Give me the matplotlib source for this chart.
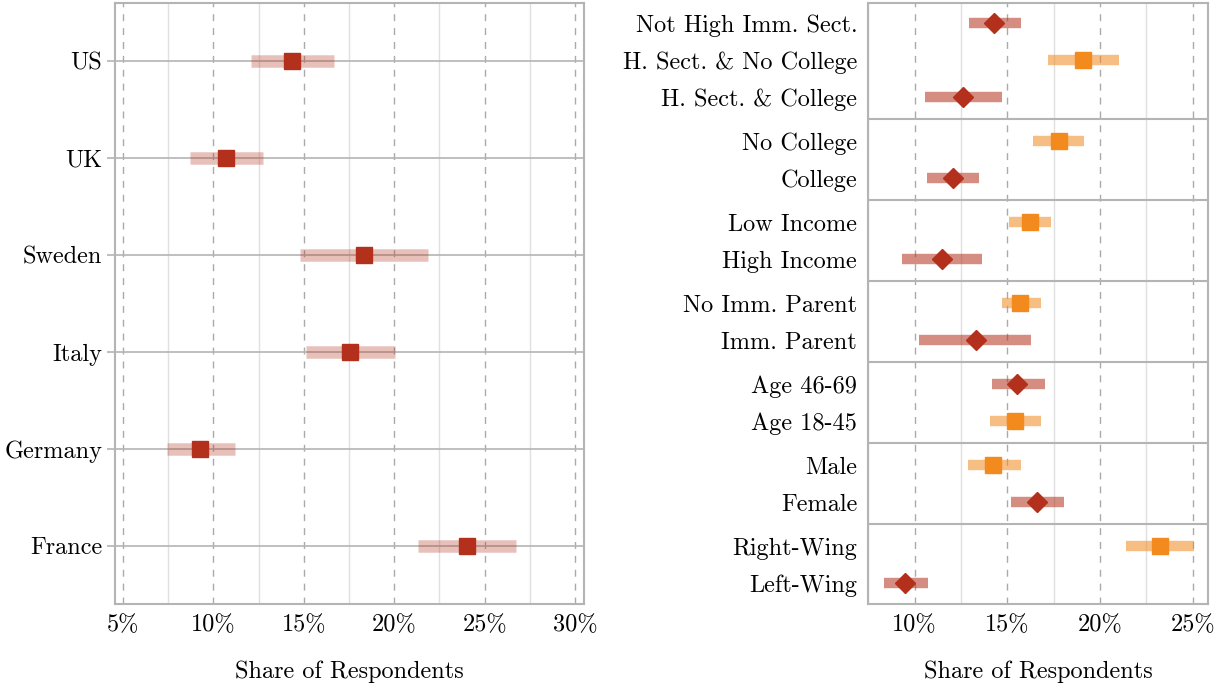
import matplotlib
matplotlib.use("Agg")
import matplotlib.pyplot as plt
from matplotlib.ticker import MultipleLocator, FuncFormatter

plt.rcParams['font.family'] = ['cmr10', 'DejaVu Serif']
plt.rcParams['axes.formatter.use_mathtext'] = True

# left panel: by country
countries = ["US", "UK", "Sweden", "Italy", "Germany", "France"]
country_est = [14.35, 10.7, 18.35, 17.55, 9.25, 24.0]
country_lo = [12.1, 8.7, 14.8, 15.1, 7.45, 21.3]
country_hi = [16.7, 12.75, 21.85, 20.05, 11.2, 26.75]

# right panel: by subgroup
group_sizes = [3, 2, 2, 2, 2, 2, 2]
sub_labels = ["Not High Imm. Sect.", "H. Sect. & No College", "H. Sect. & College",
              "No College", "College",
              "Low Income", "High Income",
              "No Imm. Parent", "Imm. Parent",
              "Age 46-69", "Age 18-45",
              "Male", "Female",
              "Right-Wing", "Left-Wing"]
sub_est = [14.3, 19.1, 12.6, 17.8, 12.05, 16.25, 11.45, 15.7, 13.3,
           15.55, 15.4, 14.25, 16.6, 23.25, 9.5]
sub_lo = [12.95, 17.2, 10.55, 16.4, 10.65, 15.1, 9.3, 14.7, 10.25,
          14.15, 14.05, 12.9, 15.2, 21.4, 8.35]
sub_hi = [15.75, 21.05, 14.7, 19.15, 13.5, 17.35, 13.65, 16.8, 16.3,
          17.05, 16.8, 15.75, 18.05, 25.05, 10.7]
sub_high = [False, True, False, True, False, True, False, True, False,
            False, True, True, False, True, False]

RED = "#b3301c"
ORANGE = "#f28a1e"
GRAY = "#b4b4b4"
FS = 17.5

fig = plt.figure(figsize=(12.23, 6.89), dpi=100)
ax1 = fig.add_axes([0.0938, 0.1234, 0.3838, 0.8722])
ax2 = fig.add_axes([0.710, 0.1234, 0.278, 0.8722])

pct = FuncFormatter(lambda v, p: "%d%%" % round(v))

for ax in (ax1, ax2):
    ax.xaxis.set_major_locator(MultipleLocator(5))
    ax.xaxis.set_minor_locator(MultipleLocator(2.5))
    ax.xaxis.set_major_formatter(pct)
    ax.grid(True, axis="x", which="major", color="#aaaaaa", linestyle=(0, (5, 5)), linewidth=1.0)
    ax.grid(True, axis="x", which="minor", color="#e0e0e0", linestyle="-", linewidth=1.0)
    ax.set_axisbelow(True)
    for s in ax.spines.values():
        s.set_color(GRAY)
        s.set_linewidth(1.5)
    ax.tick_params(axis="x", which="both", length=0, labelsize=FS, pad=7)
    ax.set_xlabel("Share of Respondents", fontsize=FS, labelpad=18)

# left
ypos = list(range(len(countries)))
for y in ypos:
    ax1.axhline(y, color=GRAY, linewidth=1.2, zorder=1)
ax1.hlines(ypos, country_lo, country_hi, color=RED, alpha=0.3, linewidth=9, zorder=2)
ax1.plot(country_est, ypos, "s", color=RED, markersize=11.5, zorder=3, linestyle="none")
ax1.set_yticks(ypos)
ax1.set_yticklabels(countries)
ax1.tick_params(axis="y", length=6, color=GRAY, width=1.2, labelsize=FS, pad=3)
ax1.set_xlim(4.55, 30.5)
ax1.set_ylim(5.6, -0.6)

# right
pos = []
seps = []
y = 0.0
for gi, n in enumerate(group_sizes):
    for k in range(n):
        pos.append(y)
        y += 1.0
    if gi < len(group_sizes) - 1:
        seps.append(y - 1.0 + 0.6)
    y += 0.2
for s in seps:
    ax2.axhline(s, color=GRAY, linewidth=1.5, zorder=1)
for i in range(len(sub_labels)):
    if sub_high[i]:
        ax2.hlines(pos[i], sub_lo[i], sub_hi[i], color=ORANGE, alpha=0.55, linewidth=7.5, zorder=2)
        ax2.plot(sub_est[i], pos[i], "s", color=ORANGE, markersize=11.5, zorder=3)
    else:
        ax2.hlines(pos[i], sub_lo[i], sub_hi[i], color=RED, alpha=0.55, linewidth=7.5, zorder=2)
        ax2.plot(sub_est[i], pos[i], "D", color=RED, markersize=10, zorder=3)
ax2.set_yticks(pos)
ax2.set_yticklabels(sub_labels)
ax2.tick_params(axis="y", length=0, labelsize=FS, pad=8)
ax2.set_xlim(7.5, 25.85)
ax2.set_ylim(pos[-1] + 0.57, -0.55)

fig.savefig("out.png", dpi=100)
